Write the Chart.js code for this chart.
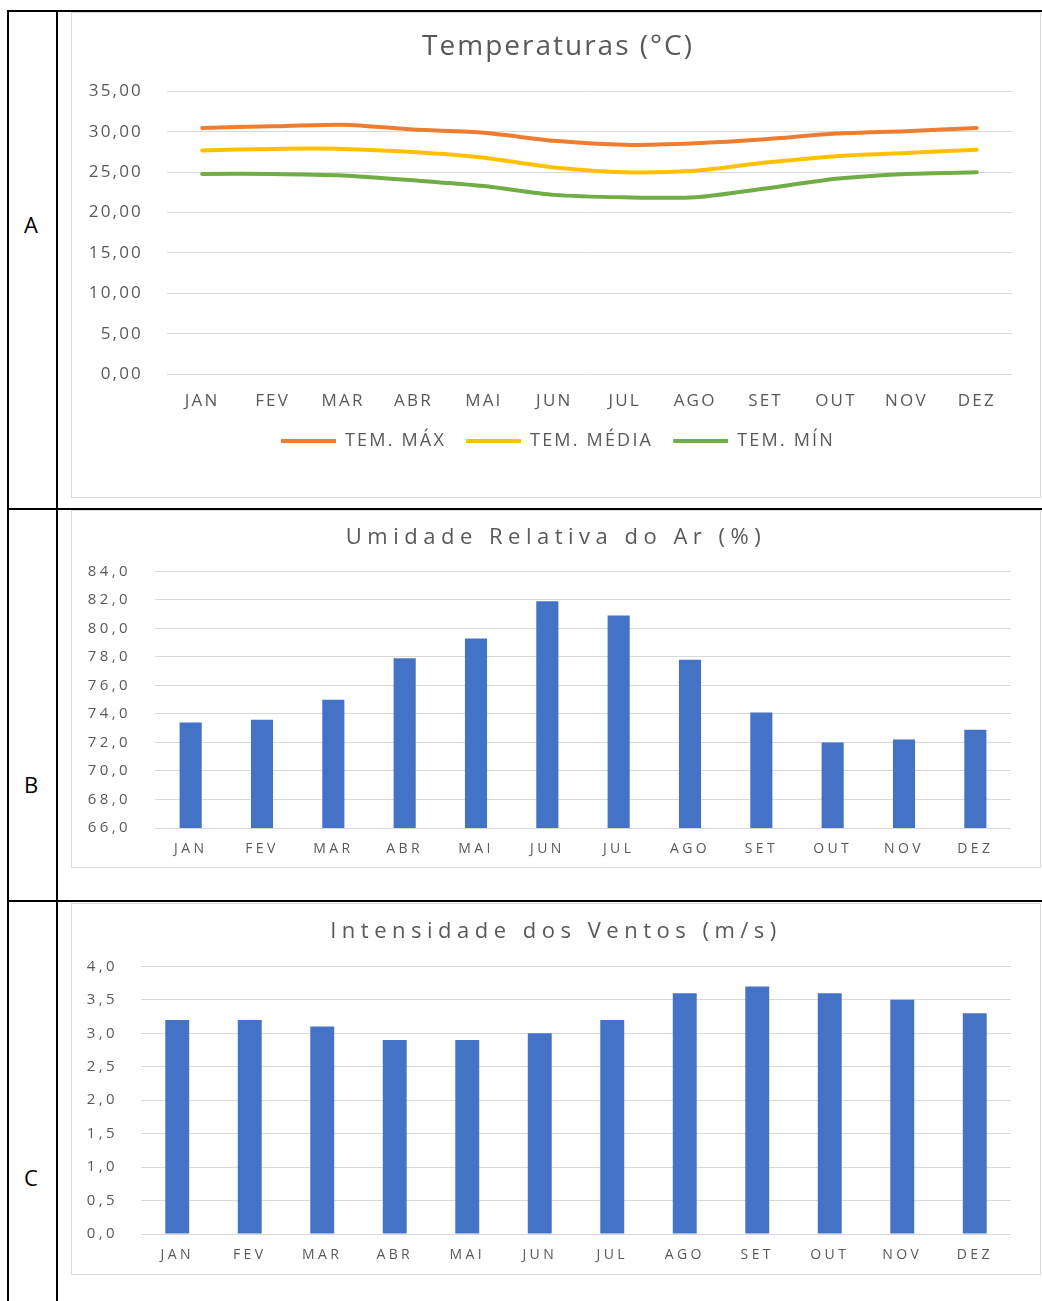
<!DOCTYPE html>
<html>
<head>
<meta charset="utf-8">
<script src="https://cdn.jsdelivr.net/npm/chart.js@4.4.0/dist/chart.umd.min.js"></script>
<style>
  body { margin: 0; background: #fff; width: 1042px; height: 1301px; overflow: hidden; position: relative; font-family: 'Open Sans', sans-serif; }
  .ln { position: absolute; background: #000; }
  .box { position: absolute; border: 1px solid #d9d9d9; box-sizing: border-box; background: #fff; }
  .box canvas { position: absolute; left: 0; top: 0; }
  .lbl { position: absolute; width: 48px; left: 7px; text-align: center; font-size: 22px; color: #000; line-height: 26px; }
</style>
</head>
<body>
<div class="ln" style="left:7px;top:10px;width:2px;height:1291px"></div>
<div class="ln" style="left:7px;top:10px;width:1035px;height:2px"></div>
<div class="ln" style="left:56px;top:10px;width:2px;height:1291px"></div>
<div class="ln" style="left:7px;top:508px;width:1035px;height:2px"></div>
<div class="ln" style="left:7px;top:900px;width:1035px;height:2px"></div>

<div class="lbl" style="top:211px">A</div>
<div class="lbl" style="top:771px">B</div>
<div class="lbl" style="top:1164px">C</div>

<div class="box" style="left:71px;top:12px;width:970px;height:486px"><canvas id="chartA" width="968" height="484"></canvas></div>
<div class="box" style="left:71px;top:510px;width:970px;height:358px"><canvas id="chartB" width="968" height="356"></canvas></div>
<div class="box" style="left:71px;top:903px;width:970px;height:372px"><canvas id="chartC" width="968" height="370"></canvas></div>

<script>
var meses = ['JAN', 'FEV', 'MAR', 'ABR', 'MAI', 'JUN', 'JUL', 'AGO', 'SET', 'OUT', 'NOV', 'DEZ'];
var temMax = [30.5, 30.7, 30.9, 30.3, 29.9, 28.9, 28.4, 28.6, 29.1, 29.8, 30.1, 30.5];
var temMedia = [27.7, 27.9, 27.9, 27.5, 26.8, 25.6, 25.0, 25.2, 26.2, 27.0, 27.4, 27.8];
var temMin = [24.8, 24.8, 24.6, 24.0, 23.3, 22.2, 21.9, 21.9, 23.0, 24.2, 24.8, 25.0];
var umidade = [73.4, 73.6, 75.0, 77.9, 79.3, 81.9, 80.9, 77.8, 74.1, 72.0, 72.2, 72.9];
var ventos = [3.2, 3.2, 3.1, 2.9, 2.9, 3.0, 3.2, 3.6, 3.7, 3.6, 3.5, 3.3];

Chart.defaults.font.family = "'Open Sans', sans-serif";
Chart.defaults.color = '#595959';

// letter spacing for the canvas text (Excel style fonts are wide)
// + small horizontal shift of title / legend so they sit centred on the box
function wrap(chart, box, spacingVal, dx) {
	if (!box) return;
	var draw = box.draw.bind(box);
	box.draw = function() {
		chart.ctx.save();
		chart.ctx.letterSpacing = spacingVal;
		chart.ctx.translate(dx, 0);
		draw();
		chart.ctx.restore();
	};
}
var spacing = {
	id: 'spacing',
	afterInit: function(chart, args, opts) {
		wrap(chart, chart.titleBlock, opts.title, opts.shift);
		if (chart.options.plugins.legend.display) wrap(chart, chart.legend, opts.text, opts.shift);
	},
	beforeUpdate: function(chart, args, opts) { chart.ctx.letterSpacing = opts.text; },
	beforeDraw: function(chart, args, opts) { chart.ctx.letterSpacing = opts.text; }
};

function virgula(d) {
	return function(v) { return Number(v).toFixed(d).replace('.', ','); };
}

// ---- A : temperaturas
new Chart(document.getElementById('chartA'), {
	type: 'line',
	data: {
		labels: meses,
		datasets: [
			{ label: 'TEM. MÁX', data: temMax, borderColor: '#ED7D31', backgroundColor: '#ED7D31' },
			{ label: 'TEM. MÉDIA', data: temMedia, borderColor: '#FFC000', backgroundColor: '#FFC000' },
			{ label: 'TEM. MÍN', data: temMin, borderColor: '#70AD47', backgroundColor: '#70AD47' }
		]
	},
	options: {
		responsive: false,
		animation: false,
		layout: { padding: { left: 0, right: 28, top: 0, bottom: 37 } },
		elements: {
			line: { borderWidth: 4, tension: 0.25, borderCapStyle: 'round' },
			point: { radius: 0 }
		},
		plugins: {
			spacing: { text: '2.2px', title: '2px', shift: 16 },
			title: { display: true, text: 'Temperaturas (°C)', font: { size: 28, weight: 'normal' }, color: '#595959', padding: { top: 17, bottom: 28 } },
			legend: {
				position: 'bottom',
				labels: {
					font: { size: 18 }, color: '#595959', boxWidth: 55, boxHeight: 4, padding: 20,
					generateLabels: function(chart) {
						return chart.data.datasets.map(function(ds, i) {
							return { text: ds.label, fillStyle: ds.borderColor, strokeStyle: ds.borderColor, lineWidth: 0, datasetIndex: i, fontColor: '#595959' };
						});
					}
				}
			},
			tooltip: { enabled: false }
		},
		scales: {
			x: {
				offset: true,
				grid: { display: false, drawTicks: false },
				border: { display: false },
				ticks: { font: { size: 17 }, padding: 17, maxRotation: 0, autoSkip: false },
				afterFit: function(s) { s.height = 38; }
			},
			y: {
				min: 0, max: 35,
				grid: { color: '#d9d9d9', drawTicks: false },
				border: { display: false },
				ticks: { stepSize: 5, font: { size: 17 }, padding: 24, callback: virgula(2) },
				afterFit: function(s) { s.width = 95; }
			}
		}
	},
	plugins: [spacing]
});

// ---- B : umidade
new Chart(document.getElementById('chartB'), {
	type: 'bar',
	data: {
		labels: meses,
		datasets: [{ label: 'Umidade', data: umidade, backgroundColor: '#4472C4', categoryPercentage: 1, barPercentage: 0.31 }]
	},
	options: {
		responsive: false,
		animation: false,
		layout: { padding: { left: 0, right: 29, top: 0, bottom: 0 } },
		plugins: {
			spacing: { text: '3.4px', title: '5.5px', shift: 14.5 },
			title: { display: true, text: 'Umidade Relativa do Ar (%)', font: { size: 22, weight: 'normal' }, color: '#595959', padding: { top: 14, bottom: 20 } },
			legend: { display: false },
			tooltip: { enabled: false }
		},
		scales: {
			x: {
				grid: { display: false, drawTicks: false },
				border: { display: false },
				ticks: { font: { size: 14 }, padding: 13, maxRotation: 0, autoSkip: false },
				afterFit: function(s) { s.height = 39; }
			},
			y: {
				min: 66, max: 84,
				grid: { color: '#d9d9d9', drawTicks: false },
				border: { display: false },
				ticks: { stepSize: 2, font: { size: 15 }, padding: 24, callback: virgula(1) },
				afterFit: function(s) { s.width = 83; }
			}
		}
	},
	plugins: [spacing]
});

// ---- C : ventos
new Chart(document.getElementById('chartC'), {
	type: 'bar',
	data: {
		labels: meses,
		datasets: [{ label: 'Ventos', data: ventos, backgroundColor: '#4472C4', categoryPercentage: 1, barPercentage: 0.33 }]
	},
	options: {
		responsive: false,
		animation: false,
		layout: { padding: { left: 0, right: 29, top: 0, bottom: 0 } },
		plugins: {
			spacing: { text: '3.4px', title: '5.5px', shift: 14.5 },
			title: { display: true, text: 'Intensidade dos Ventos (m/s)', font: { size: 22, weight: 'normal' }, color: '#595959', padding: { top: 15, bottom: 21 } },
			legend: { display: false },
			tooltip: { enabled: false }
		},
		scales: {
			x: {
				grid: { display: false, drawTicks: false },
				border: { display: false },
				ticks: { font: { size: 14 }, padding: 13, maxRotation: 0, autoSkip: false },
				afterFit: function(s) { s.height = 40; }
			},
			y: {
				min: 0, max: 4,
				grid: { color: '#d9d9d9', drawTicks: false },
				border: { display: false },
				ticks: { stepSize: 0.5, font: { size: 15 }, padding: 23, callback: virgula(1) },
				afterFit: function(s) { s.width = 69; }
			}
		}
	},
	plugins: [spacing]
});
</script>
</body>
</html>
